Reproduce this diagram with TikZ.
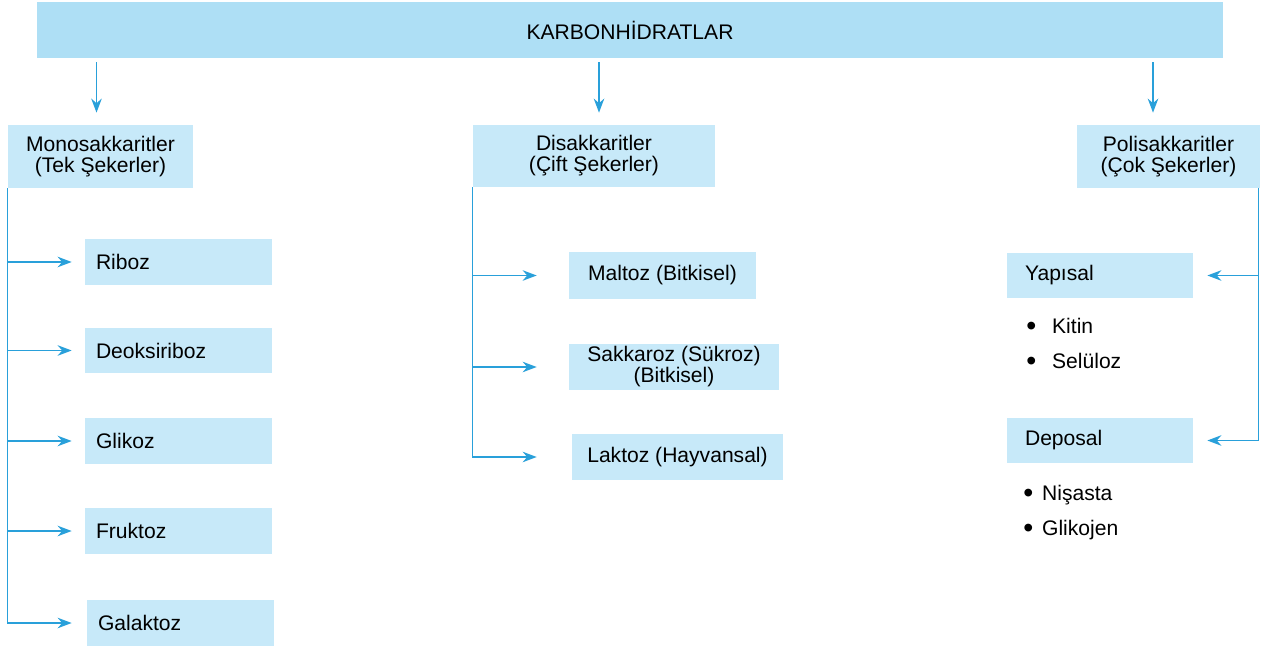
\documentclass[tikz,border=0pt]{standalone}
\usepackage{fontspec}
\setmainfont{Liberation Sans}
\usetikzlibrary{arrows.meta, positioning}

\definecolor{topblue}{RGB}{174,223,245}
\definecolor{boxblue}{RGB}{199,233,249}
\definecolor{lineblue}{RGB}{41,160,218}

\newcommand{\dotitem}[1]{\raisebox{-1.4pt}{\scalebox{1.35}{\textbullet}}\hspace{5pt}#1}

\begin{document}
\begin{tikzpicture}[
    x=0.02cm, y=-0.02cm,
    box/.style={
        rectangle,
        fill=boxblue,
        inner sep=0pt,
        align=center,
        font=\fontsize{12}{12}\selectfont
    },
    leaf/.style={
        box,
        minimum height=0.92cm,
        text width=3.3cm,
        align=left,
        inner xsep=0.22cm
    },
    sub/.style={
        box,
        minimum height=0.92cm,
        text width=3.0cm,
        align=left,
        inner xsep=0.36cm
    },
    item/.style={
        anchor=west,
        inner sep=0pt,
        font=\fontsize{12}{12}\selectfont
    },
    arrow/.style={
        draw=lineblue,
        line width=0.9pt,
        -{Stealth[length=8pt, width=6pt]}
    }
]
\useasboundingbox (0,0) rectangle (1263,651);

% Nodes
\node[box, fill=topblue, minimum width=23.72cm, minimum height=1.12cm] (carb) at (630,30) {KARBONHİDRATLAR};

\node[box, minimum width=3.7cm, minimum height=1.26cm] (mono) at (100.5,156.5) {Monosakkaritler\\(Tek Şekerler)};
\node[box, minimum width=4.84cm, minimum height=1.24cm] (disak) at (594,156) {Disakkaritler\\(Çift Şekerler)};
\node[box, minimum width=3.66cm, minimum height=1.26cm] (poli) at (1168.5,156.5) {Polisakkaritler\\(Çok Şekerler)};

\node[leaf] (riboz) at (178.5,262) {Riboz};
\node[leaf] (deoksi) at (178.5,350.5) {Deoksiriboz};
\node[leaf] (glikoz) at (178.5,441) {Glikoz};
\node[leaf] (fruktoz) at (178.5,531) {Fruktoz};
\node[leaf] (galaktoz) at (180.5,623) {Galaktoz};

\node[box, minimum width=3.74cm, minimum height=0.94cm] (maltoz) at (662.5,275.5) {Maltoz (Bitkisel)};
\node[box, minimum width=4.2cm, minimum height=0.92cm] (sakkaroz) at (674,367) {Sakkaroz (Sükroz)\\(Bitkisel)};
\node[box, minimum width=4.22cm, minimum height=0.92cm] (laktoz) at (677.5,457) {Laktoz (Hayvansal)};

\node[sub] (yapisal) at (1100,275.5) {Yapısal};
\node[sub] (deposal) at (1100,440.5) {Deposal};

\node[item] (kitin) at (1026,327) {\dotitem{\hspace{4pt}Kitin}};
\node[item] (selul) at (1026,362) {\dotitem{\hspace{4pt}Selüloz}};
\node[item] (nisasta) at (1023,495) {\dotitem{Nişasta}};
\node[item] (glikojen) at (1023,530) {\dotitem{Glikojen}};

% Arrows from the top box
\draw[arrow, shorten <=0.08cm, shorten >=0.24cm] ([xshift=-0.08cm]mono.north |- carb.south) -- ([xshift=-0.08cm]mono.north);
\draw[arrow, shorten <=0.08cm, shorten >=0.24cm] ([xshift=0.1cm]disak.north |- carb.south) -- ([xshift=0.1cm]disak.north);
\draw[arrow, shorten <=0.08cm, shorten >=0.24cm] ([xshift=-0.31cm]poli.north |- carb.south) -- ([xshift=-0.31cm]poli.north);

% Monosakkaritler
\draw[arrow, shorten >=0.26cm] (mono.south west) |- (riboz.west);
\draw[arrow, shorten >=0.26cm] (mono.south west) |- (deoksi.west);
\draw[arrow, shorten >=0.26cm] (mono.south west) |- (glikoz.west);
\draw[arrow, shorten >=0.26cm] (mono.south west) |- (fruktoz.west);
\draw[arrow, shorten >=0.3cm] (mono.south west) |- (galaktoz.west);

% Disakkaritler
\draw[arrow, shorten >=0.64cm] (disak.south west) |- (maltoz.west);
\draw[arrow, shorten >=0.64cm] (disak.south west) |- (sakkaroz.west);
\draw[arrow, shorten >=0.7cm] (disak.south west) |- (laktoz.west);

% Polisakkaritler
\draw[arrow, shorten >=0.28cm] ([xshift=-0.04cm]poli.south east) |- (yapisal.east);
\draw[arrow, shorten >=0.28cm] ([xshift=-0.04cm]poli.south east) |- (deposal.east);

\end{tikzpicture}
\end{document}
